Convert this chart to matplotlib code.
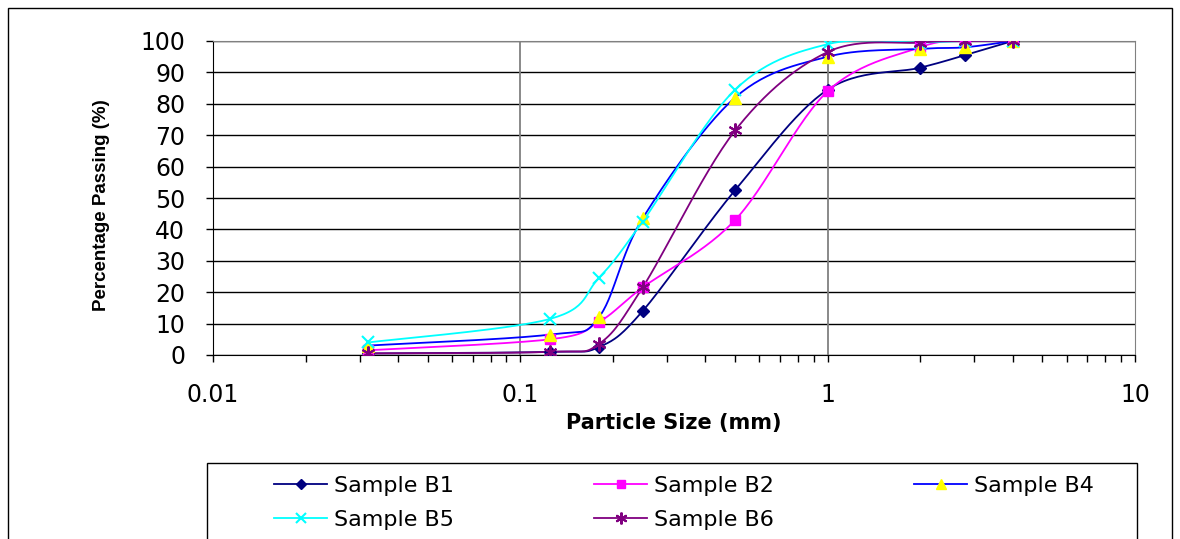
import matplotlib
matplotlib.use("Agg")
import matplotlib.pyplot as plt
from matplotlib.patches import Rectangle
from matplotlib.ticker import LogLocator, NullFormatter
import numpy as np

plt.rcParams['font.family'] = ['DejaVu Sans']

# sieve sizes (mm) and percentage passing for each sample
sizes = [0.032, 0.125, 0.18, 0.25, 0.5, 1.0, 2.0, 2.8, 4.0]
b1 = [0.5, 1.0, 2.5, 14.0, 52.5, 84.5, 91.5, 95.5, 100.0]
b2 = [1.5, 5.0, 10.5, 21.5, 43.0, 84.0, 98.0, 100.0, 100.0]
b4 = [3.0, 6.5, 12.0, 43.5, 82.0, 95.0, 97.5, 98.0, 100.0]
b5 = [4.0, 11.5, 24.5, 42.5, 84.5, 99.0, 99.5, 100.0, 100.0]
b6 = [0.5, 1.0, 3.5, 21.5, 71.5, 96.5, 99.5, 100.0, 100.0]
labels = ['Sample B1', 'Sample B2', 'Sample B4', 'Sample B5', 'Sample B6']


def smooth(xs, ys, n=30):
    # excel-like smoothed line: bezier through the points in (roughly) screen space
    u = np.log10(xs) * 307.0
    v = np.asarray(ys) * 3.14
    p = np.column_stack([u, v])
    p = np.vstack([p[0], p, p[-1]])
    out = []
    for i in range(1, len(p) - 2):
        p0, p1, p2, p3 = p[i - 1], p[i], p[i + 1], p[i + 2]
        c1 = p1 + (p2 - p0) / 6.0
        c2 = p2 - (p3 - p1) / 6.0
        t = np.linspace(0, 1, n)[:, None]
        seg = ((1 - t) ** 3) * p1 + 3 * ((1 - t) ** 2) * t * c1 + 3 * (1 - t) * t ** 2 * c2 + t ** 3 * p2
        out.append(seg if i == 1 else seg[1:])
    out = np.vstack(out)
    return 10 ** (out[:, 0] / 307.0), out[:, 1] / 3.14


fig = plt.figure(figsize=(11.8, 5.39), dpi=100)
ax = fig.add_axes([213 / 1180, 1 - 355 / 539, 922 / 1180, 314 / 539])

styles = [
    dict(color='#000080', marker='D', mfc='#000080', mec='#000080', ms=6),
    dict(color='#FF00FF', marker='s', mfc='#FF00FF', mec='#FF00FF', ms=7),
    dict(color='#0000FF', marker='^', mfc='#FFFF00', mec='#FFFF00', ms=9),
    dict(color='#00FFFF', marker='x', mfc='#00FFFF', mec='#00FFFF', ms=9, mew=1.5),
    dict(color='#800080', marker=(6, 2, 0), mfc='#800080', mec='#800080', ms=10, mew=1.5),
]

handles = []
for ys, st, lab in zip([b1, b2, b4, b5, b6], styles, labels):
    sx, sy = smooth(sizes, ys)
    ax.plot(sx, sy, color=st['color'], lw=1.3, zorder=3)
    ax.plot(sizes, ys, ls='none', marker=st['marker'], mfc=st['mfc'], mec=st['mec'],
            ms=st['ms'], mew=st.get('mew', 1), zorder=4)
    h, = ax.plot([], [], color=st['color'], lw=1.3, marker=st['marker'], mfc=st['mfc'],
                 mec=st['mec'], ms=st['ms'] * 0.85, mew=st.get('mew', 1), label=lab)
    handles.append(h)

ax.set_xscale('log')
ax.set_xlim(0.01, 10)
ax.set_ylim(0, 100)
ax.set_yticks(range(0, 101, 10))
ax.set_xticks([0.01, 0.1, 1, 10])
ax.set_xticklabels(['0.01', '0.1', '1', '10'])
ax.xaxis.set_minor_locator(LogLocator(base=10, subs=np.arange(2, 10)))
ax.xaxis.set_minor_formatter(NullFormatter())
ax.tick_params(axis='both', which='major', labelsize=17, direction='out', length=5, width=1, color='black')
ax.tick_params(axis='x', which='minor', direction='out', length=5, width=1, color='black')
ax.tick_params(axis='x', pad=15)
ax.tick_params(axis='y', pad=15)

ax.grid(True, axis='y', color='black', lw=1)
for xv in [0.1, 1]:
    ax.axvline(xv, color='#808080', lw=1.3, zorder=1)
ax.spines['left'].set_color('black')
ax.spines['bottom'].set_color('black')
ax.spines['top'].set_color('#808080')
ax.spines['right'].set_color('#808080')
ax.set_axisbelow(True)

ax.set_xlabel('Particle Size (mm)', fontsize=15, fontweight='bold', va='center')
ax.xaxis.set_label_coords(0.5, -68 / 314)
ax.set_ylabel('Percentage Passing (%)', fontsize=13.5, fontweight='bold', va='center',
              family=['Liberation Sans', 'DejaVu Sans'])
ax.yaxis.set_label_coords(-112 / 922, 150 / 314)

# figure border and legend box
fig.patches.append(Rectangle((8 / 1180, -0.1), 1164 / 1180, 1.1 - 8 / 539, transform=fig.transFigure,
                             fill=False, ec='black', lw=1))
fig.patches.append(Rectangle((207 / 1180, -0.1), 930 / 1180, 0.1 + (539 - 463) / 539,
                             transform=fig.transFigure, fill=False, ec='black', lw=1))

order = [0, 3, 1, 4, 2]
fig.legend([handles[i] for i in order], [labels[i] for i in order], ncol=3, frameon=False,
           loc='upper left', bbox_to_anchor=(274 / 1180, 1 - 476 / 539), fontsize=16,
           borderpad=0, borderaxespad=0, handlelength=2.4, columnspacing=6.3,
           handletextpad=0.3, labelspacing=0.62)

fig.savefig('out.png', dpi=100)
